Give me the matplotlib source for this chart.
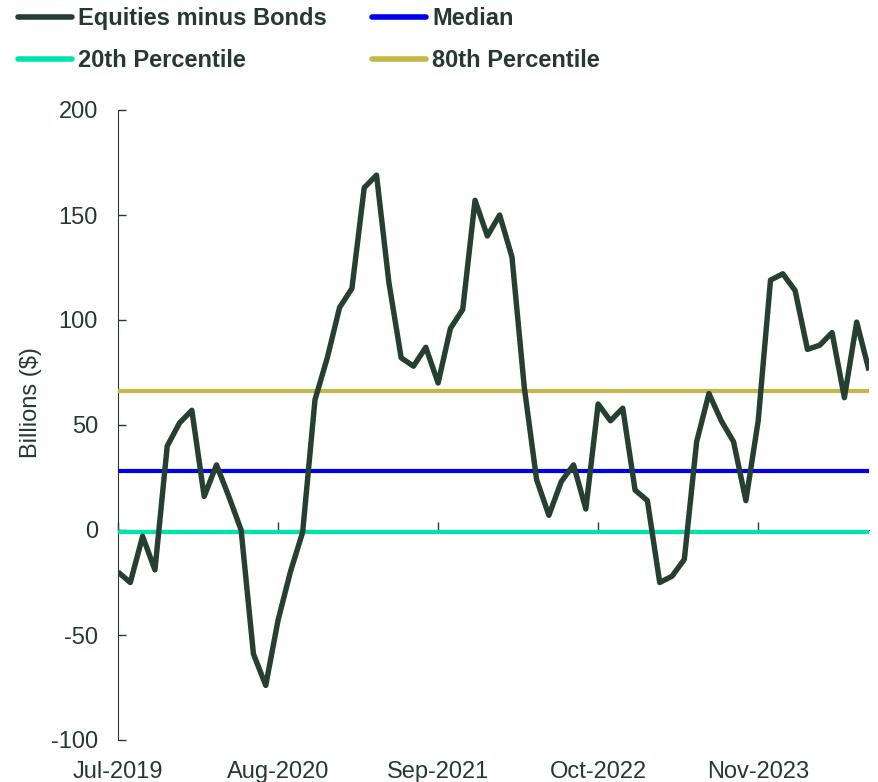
import matplotlib
matplotlib.use("Agg")
import matplotlib.pyplot as plt
import numpy as np

plt.rcParams["font.family"] = ["Liberation Sans", "DejaVu Sans"]
plt.rcParams["axes.unicode_minus"] = False

# monthly flows, Jul-2019 onwards (billions $)
equities_minus_bonds = [
    -20, -25, -3, -19, 40, 51, 57, 16, 31, 16,
    0, -59, -74, -43, -20, -1, 62, 82, 106, 115,
    163, 169, 118, 82, 78, 87, 70, 96, 105, 157,
    140, 150, 130, 68, 24, 7, 23, 31, 10, 60,
    52, 58, 19, 14, -25, -22, -14, 42, 65, 52,
    42, 14, 52, 119, 122, 114, 86, 88, 94, 63,
    99, 76,
]
median_value = 28
pct20_value = -1
pct80_value = 66

tick_labels = ["Jul-2019", "Aug-2020", "Sep-2021", "Oct-2022", "Nov-2023"]
tick_index = [0, 13, 26, 39, 52]

TEXT = "#26382F"
DATA_C = "#253F33"
FS = 17

fig = plt.figure(figsize=(8.79, 7.82), dpi=100)
ax = fig.add_axes([118 / 879, 1 - 740 / 782, (869 - 118) / 879, 630 / 782])

x = np.arange(len(equities_minus_bonds))
n = len(x)
line_main, = ax.plot(x, equities_minus_bonds, color=DATA_C, lw=3.9,
                     solid_joinstyle="round", solid_capstyle="butt", zorder=5,
                     label="Equities minus Bonds")
line_med, = ax.plot(x, [median_value] * n, color="#0000EE", lw=3.0, zorder=4, label="Median")
line_20, = ax.plot(x, [pct20_value] * n, color="#00E3AF", lw=3.0, zorder=4, label="20th Percentile")
line_80, = ax.plot(x, [pct80_value] * n, color="#C4B84A", lw=3.0, zorder=4, label="80th Percentile")

ax.set_xlim(0, n - 1)
ax.set_ylim(-100, 200)
ax.set_yticks(np.arange(-100, 201, 50))
ax.tick_params(axis="y", direction="in", length=5.5, width=1, color=TEXT,
               labelsize=FS, labelcolor=TEXT, pad=14.5)

for side in ["top", "right"]:
    ax.spines[side].set_visible(False)
ax.spines["left"].set_color(TEXT)
ax.spines["bottom"].set_position(("data", 0))
ax.spines["bottom"].set_color(TEXT)
ax.set_xticks(tick_index)
ax.tick_params(axis="x", direction="in", length=6, width=1, color=TEXT,
               labelbottom=False)

sec = ax.secondary_xaxis("bottom")
sec.set_xticks(tick_index)
sec.set_xticklabels(tick_labels)
sec.spines["bottom"].set_visible(False)
sec.tick_params(axis="x", length=0, labelsize=FS, labelcolor=TEXT, pad=15)

ax.set_ylabel("Billions ($)", fontsize=FS, color=TEXT)
ax.yaxis.set_label_coords(-(118 - 42) / 751, 0.535)

leg = fig.legend(handles=[line_main, line_20, line_med, line_80], ncol=2,
                 loc="upper left", bbox_to_anchor=(18 / 879, 1 - 7 / 782), frameon=False,
                 borderpad=0, borderaxespad=0,
                 handlelength=2.3, handletextpad=0.25, columnspacing=1.9,
                 labelspacing=0.82, prop={"weight": "bold", "size": FS})
for txt in leg.get_texts():
    txt.set_color(TEXT)
for h in leg.legend_handles:
    h.set_linewidth(4.0)
    h.set_solid_capstyle("round")

fig.savefig("out.png", dpi=100)
